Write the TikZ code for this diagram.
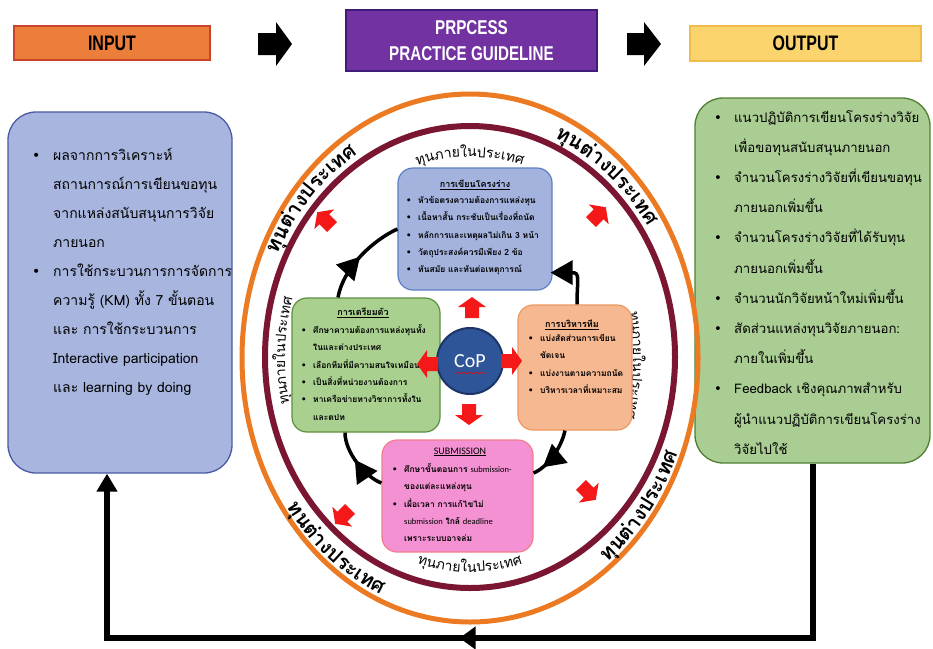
\documentclass[tikz,border=0pt]{standalone}
\usepackage{fontspec}
\setmainfont[Script=Thai]{Loma}
\newfontfamily\hdfont[FakeStretch=0.76]{Liberation Sans}
\newfontfamily\calfont{Carlito}
\newfontfamily\symfont{DejaVu Sans}
\usetikzlibrary{arrows.meta,decorations.markings,decorations.pathmorphing,calc}
\definecolor{inFill}{HTML}{EA7E3A}
\definecolor{inDraw}{HTML}{C8452B}
\definecolor{purFill}{HTML}{7232A2}
\definecolor{purDraw}{HTML}{3F1C78}
\definecolor{outFill}{HTML}{FBD46E}
\definecolor{outDraw}{HTML}{F2BC4A}
\definecolor{lFill}{HTML}{A8B6DF}
\definecolor{lDraw}{HTML}{4A5BA6}
\definecolor{rFill}{HTML}{AACD93}
\definecolor{rDraw}{HTML}{4F7F34}
\definecolor{bFill}{HTML}{A3B3DD}
\definecolor{bDraw}{HTML}{5D7EC4}
\definecolor{gFill}{HTML}{A9D08F}
\definecolor{gDraw}{HTML}{5E8E3F}
\definecolor{oFill}{HTML}{F6B890}
\definecolor{oDraw}{HTML}{EC9861}
\definecolor{pFill}{HTML}{F491D2}
\definecolor{pDraw}{HTML}{EF7F8F}
\definecolor{copFill}{HTML}{2E5597}
\definecolor{copDraw}{HTML}{1C3566}
\definecolor{ringO}{HTML}{EC7A22}
\definecolor{ringM}{HTML}{7A1632}
\definecolor{redA}{HTML}{F51818}
\newcommand\bulx[1]{\makebox[#1][l]{{\symfont •}}}
\newcommand\hind[1]{\hspace*{#1}}
\newlength\atlen
\newcommand\arctext[9]{%
  \gdef\atw{0}%
  \foreach \cl in {#8}{%
    \settowidth\atlen{\pgfinterruptpicture#7\cl\endpgfinterruptpicture}%
    \pgfmathsetmacro\tmpw{\atw+\atlen}%
    \xdef\atw{\tmpw}%
  }%
  \pgfmathsetmacro\atsp{100*sqrt((#3/100*sin(#5))^2+(#4/100*cos(#5))^2)}%
  \pgfmathsetmacro\atth{#5-(#6)*0.5*\atw/\atsp*57.29578}%
  \xdef\atcur{\atth}%
  \foreach \cl [count=\ci] in {#8}{%
    \settowidth\atlen{\pgfinterruptpicture#7\cl\endpgfinterruptpicture}%
    \pgfmathsetmacro\atsp{100*sqrt((#3/100*sin(\atcur))^2+(#4/100*cos(\atcur))^2)}%
    \pgfmathsetmacro\atmid{\atcur+(#6)*0.5*\atlen/\atsp*57.29578}%
    \pgfmathsetmacro\atrot{atan2(-(#6)*(#4)*cos(\atmid),-(#6)*(#3)*sin(\atmid))}%
    \node[name=#9\ci, rotate=\atrot, anchor=base, inner sep=0pt, outer sep=0pt, font={#7}] at ({#1+#3*cos(\atmid)},{#2+#4*sin(\atmid)}) {\cl};%
    \pgfmathsetmacro\atnext{\atcur+(#6)*\atlen/\atsp*57.29578}%
    \xdef\atcur{\atnext}%
  }%
}
\newcommand\redarr[3]{\fill[redA, shift={(#1,#2)}, rotate=#3] (-10,-7) -- (1,-7) -- (1,-14) -- (11,0) -- (1,14) -- (1,7) -- (-10,7) -- cycle;}
\tikzset{
  hdr/.style={rectangle, line width=1.5pt, inner sep=0pt},
  sidebox/.style={rectangle, rounded corners=28pt, line width=1.3pt, inner sep=0pt},
  cbox/.style={rectangle, rounded corners=15pt, line width=1.2pt, inner sep=0pt},
  txt/.style={align=left, inner sep=0pt, anchor=north west},
  ctitle/.style={inner sep=0pt, font={\bfseries\fontsize{9}{10}\selectfont}},
  ctxt/.style={txt, font={\bfseries\fontsize{8.5}{17.4}\selectfont}},
  stxt/.style={txt, font={\fontsize{14}{29}\selectfont}},
  cyc/.style={line width=3.5pt, black, postaction={decorate}, decoration={markings, mark=at position #1 with {\arrow{Triangle[length=22pt,width=24pt]}}}},
  fb/.style={line width=6pt, black}
}
\begin{document}
\begin{tikzpicture}[x=1pt,y=-1pt]
\fill[white] (0,0) rectangle (933,648);
\useasboundingbox (0,0) rectangle (933,648);

% ---------- header ----------
\node[hdr, fill=inFill, draw=inDraw, minimum width=196pt, minimum height=34pt, font={\hdfont\bfseries\fontsize{21}{22}\selectfont}] (input) at (112,43) {INPUT};
\node[hdr, fill=purFill, draw=purDraw, line width=2.5pt, minimum width=251pt, minimum height=61pt, text=white, align=center, font={\hdfont\bfseries\fontsize{20}{26}\selectfont}] (process) at (471.5,40.5) {PRPCESS\\PRACTICE GUIDELINE};
\node[hdr, fill=outFill, draw=outDraw, minimum width=231pt, minimum height=35pt, font={\hdfont\bfseries\fontsize{21}{22}\selectfont}] (output) at (805.5,43.5) {OUTPUT};
\fill[black] (258,33) -- (276,33) -- (276,22) -- (292,44) -- (276,66) -- (276,55) -- (258,55) -- cycle;
\fill[black] (627,33) -- (644,33) -- (644,22) -- (661,44) -- (644,66) -- (644,55) -- (627,55) -- cycle;

% ---------- side boxes ----------
\node[sidebox, fill=lFill, draw=lDraw, minimum width=224pt, minimum height=361pt] (inL) at (120,292.5) {};
\node[stxt] (inLtxt) at (32,148) {%
\bulx{21pt}ผลจากการวิเคราะห์\\
\hind{21pt}สถานการณ์การเขียนขอทุน\\
\hind{21pt}จากแหล่งสนับสนุนการวิจัย\\
\hind{21pt}ภายนอก\\
\bulx{21pt}การใช้กระบวนการการจัดการ\\
\hind{21pt}ความรู้ (KM) ทั้ง 7 ขั้นตอน\\
\hind{21pt}และ การใช้กระบวนการ\\
\hind{21pt}Interactive participation\\
\hind{21pt}และ learning by doing};

\node[sidebox, fill=rFill, draw=rDraw, minimum width=235pt, minimum height=365pt] (outR) at (812.5,280.5) {};
\node[stxt, font={\fontsize{13.2}{30.2}\selectfont}] (outRtxt) at (714,110) {%
\bulx{20pt}แนวปฏิบัติการเขียนโครงร่างวิจัย\\
\hind{20pt}เพื่อขอทุนสนับสนุนภายนอก\\
\bulx{20pt}จำนวนโครงร่างวิจัยที่เขียนขอทุน\\
\hind{20pt}ภายนอกเพิ่มขึ้น\\
\bulx{20pt}จำนวนโครงร่างวิจัยที่ได้รับทุน\\
\hind{20pt}ภายนอกเพิ่มขึ้น\\
\bulx{20pt}จำนวนนักวิจัยหน้าใหม่เพิ่มขึ้น\\
\bulx{20pt}สัดส่วนแหล่งทุนวิจัยภายนอก:\\
\hind{20pt}ภายในเพิ่มขึ้น\\
\bulx{20pt}Feedback เชิงคุณภาพสำหรับ\\
\hind{20pt}ผู้นำแนวปฏิบัติการเขียนโครงร่าง\\
\hind{20pt}วิจัยไปใช้};

% ---------- rings ----------
\draw[ringO, line width=5pt] (470,358) ellipse [x radius=228pt, y radius=264pt];
\draw[ringM, line width=6pt] (470,357) ellipse [x radius=205pt, y radius=231pt];

\arctext{470}{358}{213}{240}{222}{1}{\bfseries\fontsize{20.5}{24}\selectfont}{ทุ,น,ต่,า,ง,ป,ร,ะ,เ,ท,ศ}{tl}
\arctext{470}{358}{213}{240}{310}{1}{\bfseries\fontsize{20.5}{24}\selectfont}{ทุ,น,ต่,า,ง,ป,ร,ะ,เ,ท,ศ}{tr}
\arctext{470}{358}{224}{258}{129}{-1}{\bfseries\fontsize{20.5}{24}\selectfont}{ทุ,น,ต่,า,ง,ป,ร,ะ,เ,ท,ศ}{bl}
\arctext{470}{358}{224}{258}{37}{-1}{\bfseries\fontsize{20.5}{24}\selectfont}{ทุ,น,ต่,า,ง,ป,ร,ะ,เ,ท,ศ}{br}
\arctext{470}{358}{185}{201}{270}{1}{\fontsize{14}{16}\selectfont}{ทุ,น,ภ,า,ย,ใ,น,ป,ร,ะ,เ,ท,ศ}{it}
\arctext{470}{358}{190}{214}{90}{-1}{\fontsize{14}{16}\selectfont}{ทุ,น,ภ,า,ย,ใ,น,ป,ร,ะ,เ,ท,ศ}{ib}
\arctext{470}{358}{185}{210}{182}{1}{\fontsize{14}{16}\selectfont}{ทุ,น,ภ,า,ย,ใ,น,ป,ร,ะ,เ,ท,ศ}{il}
\arctext{470}{358}{163}{210}{2}{1}{\fontsize{14}{16}\selectfont}{ทุ,น,ภ,า,ย,ใ,น,ป,ร,ะ,เ,ท,ศ}{ir}

% ---------- central boxes ----------
\node[cbox, fill=bFill, draw=bDraw, minimum width=154pt, minimum height=122pt] (bbox) at (475,229) {};
\node[ctitle] (btitle) at (475,185) {\underline{การเขียนโครงร่าง}};
\node[ctxt] (btxt) at (406,196) {%
\bulx{12pt}หัวข้อตรงความต้องการแหล่งทุน\\
\bulx{12pt}เนื้อหาสั้น กระชับเป็นเรื่องที่ถนัด\\
\bulx{12pt}หลักการและเหตุผลไม่เกิน 3 หน้า\\
\bulx{12pt}วัตถุประสงค์ควรมีเพียง 2 ข้อ\\
\bulx{12pt}ทันสมัย และทันต่อเหตุการณ์};

\node[cbox, fill=gFill, draw=gDraw, minimum width=148pt, minimum height=134pt] (gbox) at (366,365) {};
\node[ctitle] (gtitle) at (363,313) {\underline{การเตรียมตัว}};
\node[ctxt] (gtxt) at (301,324) {%
\bulx{12pt}ศึกษาความต้องการแหล่งทุนทั้ง\\
\hind{12pt}ในและต่างประเทศ\\
\bulx{12pt}เลือกทีมที่มีความสนใจเหมือนกัน\\
\bulx{12pt}เป็นสิ่งที่หน่วยงานต้องการ\\
\bulx{12pt}หาเครือข่ายทางวิชาการทั้งใน\\
\hind{12pt}และตปท};

\node[cbox, fill=oFill, draw=oDraw, minimum width=114pt, minimum height=125pt] (obox) at (575,367.5) {};
\node[ctitle] (otitle) at (572,325) {\underline{การบริหารทีม}};
\node[ctxt] (otxt) at (528,334) {%
\bulx{12pt}แบ่งสัดส่วนการเขียน\\
\hind{12pt}ชัดเจน\\
\bulx{12pt}แบ่งงานตามความถนัด\\
\bulx{12pt}บริหารเวลาที่เหมาะสม};

\node[cbox, fill=pFill, draw=pDraw, minimum width=151pt, minimum height=112pt] (pbox) at (457.5,496) {};
\node[inner sep=0pt, font={\calfont\fontsize{10}{12}\selectfont}] (ptitle) at (460,452) {\underline{SUBMISSION}};
\node[ctxt] (ptxt) at (392,463) {%
\bulx{12pt}ศึกษาขั้นตอนการ {\calfont\mdseries submission-}\\
\hind{12pt}ของแต่ละแหล่งทุน\\
\bulx{12pt}เผื่อเวลา การแก้ไขไม่\\
\hind{12pt}{\calfont\mdseries submission} ใกล้ {\calfont\mdseries deadline}\\
\hind{12pt}เพราะระบบอาจล่ม};

\node[circle, fill=copFill, draw=copDraw, line width=2pt, minimum size=66pt, inner sep=0pt, text=white, font={\calfont\fontsize{20}{24}\selectfont}] (cop) at (470,361) {CoP};
\draw[red, decorate, decoration={snake, amplitude=0.8pt, segment length=3pt}] (455,373) -- (486,373);

% ---------- red arrows ----------
\redarr{472}{308}{90}
\redarr{428}{364}{180}
\redarr{511}{361}{0}
\redarr{469}{414}{-90}
\redarr{325}{220}{135}
\redarr{598}{215}{45}
\redarr{343}{516}{225}
\redarr{588}{492}{-45}

% ---------- cycle arrows ----------
\draw[cyc=0.5] ([xshift=-28pt]gbox.north) .. controls +(6,-32) and +(-22,10) .. (bbox.west);
\draw[line width=3.5pt, -{Triangle[length=22pt,width=24pt]}] ([xshift=2pt]obox.north) .. controls +(0,-26) and +(30,0) .. ($(bbox.south east)+(-2,-18)$);
\draw[cyc=0.8] ([xshift=-10pt]obox.south) .. controls +(-4,18) and +(14,-6) .. ($(pbox.east)+(0,-23)$);
\draw[cyc=0.55] ($(pbox.west)+(0,-13)$) .. controls +(-16,-6) and +(0,20) .. ([xshift=-21pt]gbox.south);

% ---------- feedback ----------
\draw[fb, -{Triangle[length=18pt,width=20pt]}, postaction={decorate}, decoration={markings, mark=at position 0.505 with {\arrow{Triangle[length=16pt,width=22pt]}}}] (outR.south) -- (outR.south |- 0,638) -- ([xshift=-13pt]inL.south |- 0,638) -- ([xshift=-13pt]inL.south);
\end{tikzpicture}
\end{document}
